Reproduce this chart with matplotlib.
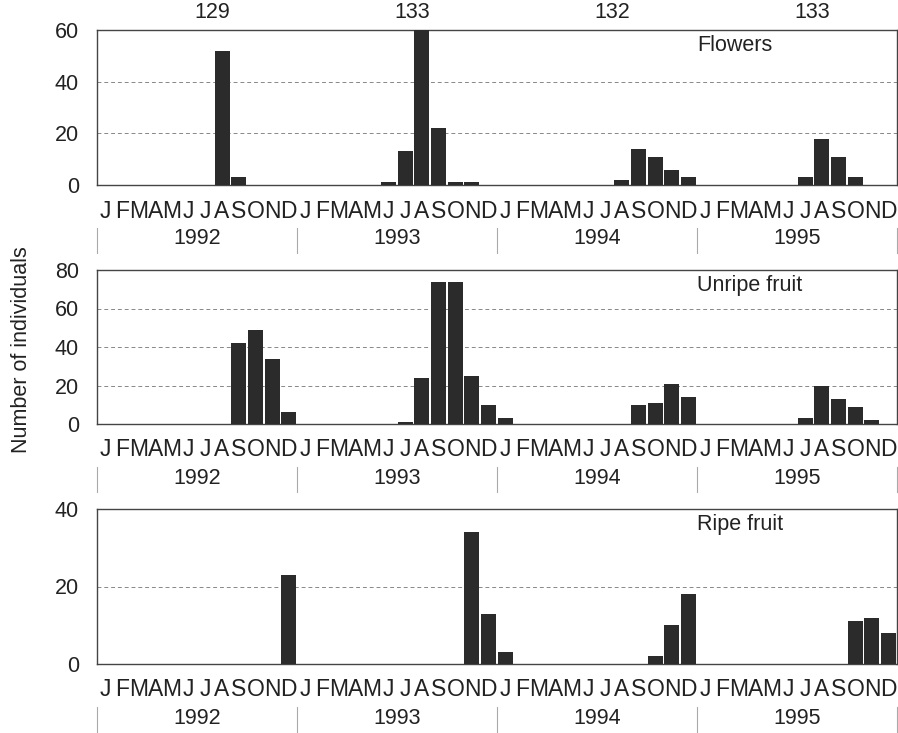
import numpy as np
import matplotlib.pyplot as plt

plt.rcParams['font.family'] = ['Liberation Sans', 'DejaVu Sans']

years = ['1992', '1993', '1994', '1995']
month_letters = list('JFMAMJJASOND')
sample_sizes = ['129', '133', '132', '133']

# monthly counts, Jan 1992 .. Dec 1995 (48 months), only non-zero months listed
flowers_months = [7, 8, 17, 18, 19, 20, 21, 22, 31, 32, 33, 34, 35, 42, 43, 44, 45]
flowers_vals = [52, 3, 1, 13, 60, 22, 1, 1, 2, 14, 11, 6, 3, 3, 18, 11, 3]

unripe_months = [8, 9, 10, 11, 18, 19, 20, 21, 22, 23, 24, 32, 33, 34, 35, 42, 43, 44, 45, 46]
unripe_vals = [42, 49, 34, 6, 1, 24, 74, 74, 25, 10, 3, 10, 11, 21, 14, 3, 20, 13, 9, 2]

ripe_months = [11, 22, 23, 24, 33, 34, 35, 45, 46, 47]
ripe_vals = [23, 34, 13, 3, 2, 10, 18, 11, 12, 8]

panels = [
    ('Flowers', flowers_months, flowers_vals, 60, [0, 20, 40, 60]),
    ('Unripe fruit', unripe_months, unripe_vals, 80, [0, 20, 40, 60, 80]),
    ('Ripe fruit', ripe_months, ripe_vals, 40, [0, 20, 40]),
]

W, H = 898, 733
fig = plt.figure(figsize=(W / 100, H / 100), dpi=100)

# pixel boxes (top, bottom) of each panel
boxes = [(30, 185), (270, 424), (509, 664)]
left, right = 97, 897
txt = '#222222'
fs = 15.5

for (name, months, vals, ymax, yt), (top, bot) in zip(panels, boxes):
    ax = fig.add_axes([left / W, 1 - bot / H, (right - left) / W, (bot - top) / H])
    counts = np.zeros(48)
    counts[months] = vals
    x = np.arange(48) + 0.5
    ax.bar(x, counts, width=0.9, color='#2b2b2b', edgecolor='none', zorder=3)
    ax.set_xlim(0, 48)
    ax.set_ylim(0, ymax)
    ax.set_yticks(yt)
    ax.set_yticklabels([str(v) for v in yt], fontsize=fs, color=txt)
    ax.tick_params(axis='y', length=0, pad=13)
    ax.set_xticks([])
    for g in yt[1:-1]:
        ax.axhline(g, color='#888888', lw=0.7, ls=(0, (4, 3)), zorder=1)
    for s in ax.spines.values():
        s.set_color('#444444')
        s.set_linewidth(1.0)

    h = bot - top
    tr = ax.get_xaxis_transform()
    for i in range(48):
        ax.text(i + 0.5, -26 / h, month_letters[i % 12], transform=tr, ha='center',
                va='center', fontsize=16.5, color=txt, clip_on=False)
    for k, yr in enumerate(years):
        ax.text(12 * k + 6, -54 / h, yr, transform=tr, ha='center', va='center',
                fontsize=fs, color=txt, clip_on=False)
    for k in range(5):
        ax.plot([12 * k, 12 * k], [-43 / h, -68 / h], transform=tr, color='#aaaaaa',
                lw=0.8, clip_on=False)
    ax.text(36, 0.9, name, transform=tr, ha='left', va='center', fontsize=fs, color=txt)

    if name == 'Flowers':
        for k, n in enumerate(sample_sizes):
            ax.text(12 * k + 6.9, 1 + 17 / h, n, transform=tr, ha='center', va='center',
                    fontsize=fs, color=txt, clip_on=False)

fig.text(22 / W, 1 - 350 / H, 'Number of individuals', rotation=90, ha='center',
         va='center', fontsize=fs, color=txt)

fig.savefig('out.png', dpi=100, facecolor='white')
